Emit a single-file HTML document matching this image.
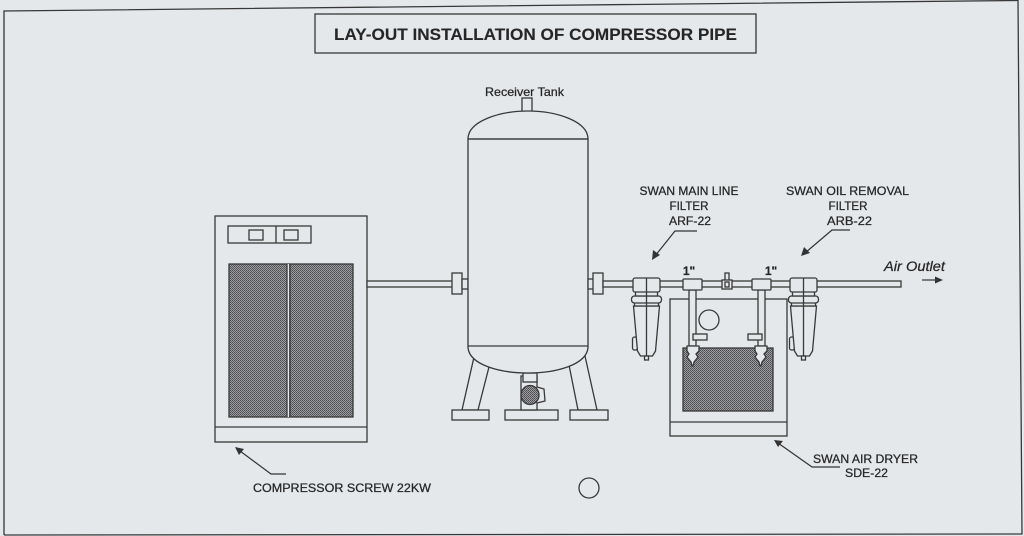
<!DOCTYPE html>
<html><head><meta charset="utf-8"><style>
html,body{margin:0;padding:0;background:#e5e8eb;}
svg{display:block;}
text{font-family:"Liberation Sans",Arial,sans-serif;fill:#262626;stroke:#262626;stroke-width:0.25;}
</style></head><body>
<svg width="1024" height="536" viewBox="0 0 1024 536" xmlns="http://www.w3.org/2000/svg">
<defs>
<pattern id="hatch" width="2" height="2" patternUnits="userSpaceOnUse">
<rect width="2" height="2" fill="#9c9ea2"/>
<rect width="1" height="1" fill="#4a4a4c"/>
<rect x="1" y="1" width="1" height="1" fill="#5a5a5c"/>
</pattern>
</defs>
<rect width="1024" height="536" fill="#e5e8eb"/>
<g fill="none" stroke="#383838" stroke-width="1.3">
<!-- outer border -->
<path d="M4,535 L4,11 L1018,0.5 L1022,534 L4,535"/>
<!-- title -->
<rect x="315" y="14" width="441" height="39"/>
</g>
<text x="535.5" y="40" font-size="17" font-weight="bold" text-anchor="middle" textLength="403" lengthAdjust="spacingAndGlyphs" style="stroke-width:0.1">LAY-OUT INSTALLATION OF COMPRESSOR PIPE</text>

<g stroke="#383838" stroke-width="1.3" fill="#e5e8eb">
<!-- compressor -->
<rect x="215" y="216" width="152" height="226"/>
<line x1="215" y1="427" x2="367" y2="427"/>
<rect x="228" y="226" width="83" height="17"/>
<line x1="276" y1="226" x2="276" y2="243"/>
<rect x="249" y="230" width="14" height="10"/>
<rect x="284" y="230" width="14" height="10"/>
<rect x="229" y="264" width="124" height="153" fill="url(#hatch)"/>
<line x1="288" y1="264" x2="288" y2="417" stroke="#e5e8eb" stroke-width="2"/>
<line x1="287" y1="264" x2="287" y2="417"/>
<line x1="290" y1="264" x2="290" y2="417"/>

<!-- left pipe -->
<rect x="367" y="281" width="86" height="6"/>
<rect x="452" y="273" width="10" height="21"/>
<rect x="462" y="279" width="6" height="10"/>

<!-- tank -->
<rect x="522" y="98" width="10" height="15"/>
<path d="M468,139 C468,121 500,111 528,111 C556,111 588,121 588,139"/>
<!-- legs -->
<polygon points="474,357 490,363 478,410 462,410"/>
<polygon points="568,360 585,356 597,410 578,410"/>
<rect x="452" y="410" width="37" height="10"/>
<rect x="570" y="410" width="38" height="10"/>
<rect x="505" y="410" width="53" height="10"/>
<rect x="521" y="376" width="16" height="34"/>
<rect x="523" y="373" width="14" height="9"/>
<path d="M537,387 L544,389 L545,401 L537,403" />
<ellipse cx="530" cy="395" rx="9" ry="9.5" fill="url(#hatch)"/>
<path d="M468,139 L468,348 C470,365 500,373 528,373 C556,373 586,365 588,348 L588,139 Z"/>
<line x1="468" y1="139" x2="588" y2="139"/>
<line x1="468" y1="346" x2="588" y2="346"/>

<!-- right pipe -->
<rect x="588" y="279" width="6" height="10"/>
<rect x="593" y="273" width="10" height="21"/>
<rect x="603" y="281" width="298" height="6"/>

<!-- dryer -->
<rect x="670" y="299" width="117" height="137"/>
<line x1="670" y1="422" x2="787" y2="422"/>
<circle cx="709" cy="320" r="10"/>
<rect x="683" y="348" width="90" height="63" fill="url(#hatch)"/>

<!-- union -->
<rect x="725" y="273" width="4" height="8"/>
<rect x="722" y="280" width="10" height="9"/>
<rect x="725" y="282" width="4" height="5"/>

<!-- tee 1 -->
<rect x="689" y="290" width="7" height="56"/>
<rect x="683" y="279" width="19" height="11" rx="1"/>
<rect x="693" y="334" width="14" height="6"/>
<path d="M687,346 L699,346 L699,351 L696,354 L698,357 L694,362 L693,366 L692,366 L691,362 L687,357 L689,354 L687,351 Z"/>
<!-- tee 2 -->
<rect x="758" y="290" width="7" height="56"/>
<rect x="752" y="279" width="19" height="11" rx="1"/>
<rect x="748" y="334" width="14" height="6"/>
<path d="M755,346 L767,346 L767,351 L764,354 L766,357 L762,362 L761,366 L760,366 L759,362 L755,357 L757,354 L755,351 Z"/>

<!-- filter 1 -->
<g transform="translate(646.5,0)">
<rect x="-14" y="337" width="5" height="13" rx="2"/>
<path d="M-13,306 L13,306 L9,351 L6,356 L-6,356 L-9,351 Z"/>
<rect x="-2" y="356" width="4" height="4"/>
<rect x="-12" y="302" width="24" height="4"/>
<rect x="-15" y="296" width="30" height="7" rx="3"/>
<rect x="-11" y="291" width="22" height="5"/>
<rect x="-13.5" y="278" width="27" height="14" rx="2"/>
<line x1="0" y1="278" x2="0" y2="356"/>
</g>
<!-- filter 2 -->
<g transform="translate(803.5,0)">
<rect x="-14" y="337" width="5" height="13" rx="2"/>
<path d="M-13,306 L13,306 L9,351 L6,356 L-6,356 L-9,351 Z"/>
<rect x="-2" y="356" width="4" height="4"/>
<rect x="-12" y="302" width="24" height="4"/>
<rect x="-15" y="296" width="30" height="7" rx="3"/>
<rect x="-11" y="291" width="22" height="5"/>
<rect x="-13.5" y="278" width="27" height="14" rx="2"/>
<line x1="0" y1="278" x2="0" y2="356"/>
</g>

<circle cx="589" cy="488" r="10"/>
</g>

<!-- leader arrows -->
<g stroke="#333" stroke-width="1.2" fill="none">
<path d="M286,474 L271,474 L240,451"/>
<path d="M697,231 L675,231 L655,256"/>
<path d="M850,230 L832,230 L805,253"/>
<path d="M840,467 L812,467 L778,443"/>
<line x1="922" y1="280" x2="936" y2="280"/>
</g>
<g fill="#333">
<polygon points="235,447 244,449 239,455"/>
<polygon points="652,260 653,250 660,255"/>
<polygon points="801,256 804,247 810,253"/>
<polygon points="774,440 783,441 778,447"/>
<polygon points="943,280 935,276.5 935,283.5"/>
</g>

<!-- labels -->
<text x="524.5" y="96" font-size="12" text-anchor="middle" textLength="79" lengthAdjust="spacingAndGlyphs">Receiver Tank</text>
<text x="689" y="195" font-size="12" text-anchor="middle" textLength="99" lengthAdjust="spacingAndGlyphs">SWAN MAIN LINE</text>
<text x="689" y="210" font-size="12" text-anchor="middle" textLength="39" lengthAdjust="spacingAndGlyphs">FILTER</text>
<text x="690" y="225" font-size="12" text-anchor="middle" textLength="42" lengthAdjust="spacingAndGlyphs">ARF-22</text>
<text x="847.5" y="195" font-size="12" text-anchor="middle" textLength="123" lengthAdjust="spacingAndGlyphs">SWAN OIL REMOVAL</text>
<text x="848" y="210" font-size="12" text-anchor="middle" textLength="39" lengthAdjust="spacingAndGlyphs">FILTER</text>
<text x="849.5" y="225" font-size="12" text-anchor="middle" textLength="45" lengthAdjust="spacingAndGlyphs">ARB-22</text>
<text x="914.5" y="271" font-size="14" font-style="italic" text-anchor="middle" textLength="61" lengthAdjust="spacingAndGlyphs">Air Outlet</text>
<text x="689" y="275" font-size="12" font-weight="bold" text-anchor="middle">1"</text>
<text x="771" y="275" font-size="12" font-weight="bold" text-anchor="middle">1"</text>
<text x="342" y="492" font-size="12" text-anchor="middle" textLength="178" lengthAdjust="spacingAndGlyphs">COMPRESSOR SCREW 22KW</text>
<text x="865.5" y="463" font-size="12" text-anchor="middle" textLength="105" lengthAdjust="spacingAndGlyphs">SWAN AIR DRYER</text>
<text x="866.5" y="477" font-size="12" text-anchor="middle" textLength="43" lengthAdjust="spacingAndGlyphs">SDE-22</text>
</svg>
</body></html>
